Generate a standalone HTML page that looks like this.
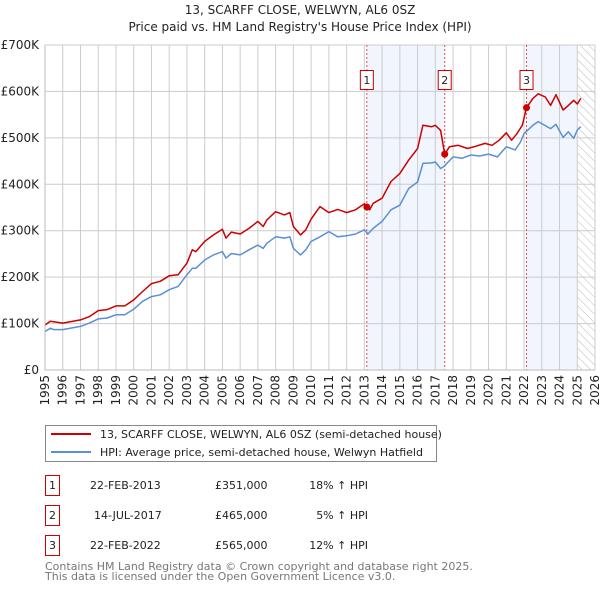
<!DOCTYPE html>
<html><head><meta charset="utf-8"><style>
body{margin:0;background:#fff;font-family:"DejaVu Sans","Liberation Sans",sans-serif;}
svg text{font-family:"DejaVu Sans","Liberation Sans",sans-serif;}
</style></head><body>
<svg id="chart" width="600" height="590" xmlns="http://www.w3.org/2000/svg">
<defs><pattern id="hatch" width="6" height="6" patternUnits="userSpaceOnUse" patternTransform="rotate(-45)"><line x1="0" y1="0" x2="0" y2="6" stroke="#bbb" stroke-width="1"/></pattern></defs>
<text x="300" y="14" text-anchor="middle" font-size="12" fill="#222">13, SCARFF CLOSE, WELWYN, AL6 0SZ</text>
<text x="300" y="31" text-anchor="middle" font-size="12" fill="#222">Price paid vs. HM Land Registry's House Price Index (HPI)</text>
<g id="plot"></g>
<g>
<rect x="45.5" y="425.5" width="391" height="36" fill="#fff" stroke="#888"/>
<line x1="51" y1="434" x2="91" y2="434" stroke="#cc0000" stroke-width="2"/>
<text x="100" y="438" font-size="11" fill="#222">13, SCARFF CLOSE, WELWYN, AL6 0SZ (semi-detached house)</text>
<line x1="51" y1="452" x2="91" y2="452" stroke="#5b8fd6" stroke-width="2"/>
<text x="100" y="456" font-size="11" fill="#222">HPI: Average price, semi-detached house, Welwyn Hatfield</text>
</g>
<g font-size="11" fill="#222">
<rect x="45.5" y="475.5" width="14" height="20" fill="#fff" stroke="#cc0000"/><text x="52.5" y="489" text-anchor="middle">1</text>
<text x="90" y="489">22-FEB-2013</text><text x="215" y="489">£351,000</text><text x="368" y="489" text-anchor="end">18% ↑ HPI</text>
<rect x="45.5" y="505.5" width="14" height="20" fill="#fff" stroke="#cc0000"/><text x="52.5" y="519" text-anchor="middle">2</text>
<text x="94" y="519">14-JUL-2017</text><text x="215" y="519">£465,000</text><text x="368" y="519" text-anchor="end">5% ↑ HPI</text>
<rect x="45.5" y="535.5" width="14" height="20" fill="#fff" stroke="#cc0000"/><text x="52.5" y="549" text-anchor="middle">3</text>
<text x="90" y="549">22-FEB-2022</text><text x="215" y="549">£565,000</text><text x="368" y="549" text-anchor="end">12% ↑ HPI</text>
</g>
<text x="45" y="570" font-size="11" fill="#777">Contains HM Land Registry data © Crown copyright and database right 2025.</text>
<text x="45" y="580" font-size="11" fill="#777">This data is licensed under the Open Government Licence v3.0.</text>
</svg>
<script>
const hpiYears=[1995,1995.3,1995.5,1996,1997,1997.5,1998,1998.5,1999,1999.5,2000,2000.5,2001,2001.5,2002,2002.5,2003,2003.3,2003.5,2004,2004.5,2005,2005.2,2005.5,2006,2006.5,2007,2007.3,2007.5,2008,2008.5,2008.8,2009,2009.4,2009.7,2010,2010.5,2011,2011.5,2012,2012.5,2013,2013.2,2013.5,2014,2014.5,2015,2015.5,2016,2016.3,2016.8,2017,2017.3,2017.5,2018,2018.5,2019,2019.5,2020,2020.5,2021,2021.5,2021.8,2022,2022.5,2022.8,2023.5,2023.8,2024.2,2024.5,2024.8,2025,2025.2];
const hpiValues=[83,90,87,87,94,101,110,112,119,119,131,148,158,162,173,180,205,219,219,237,248,255,241,251,248,259,269,262,273,287,284,287,262,248,259,277,287,298,287,289,293,302,293,305,320,345,355,391,405,445,446,448,434,439,459,456,463,461,465,459,481,474,491,509,527,535,520,529,501,513,499,517,524];
const priceYears=[1995,1995.3,1996,1997,1997.5,1998,1998.5,1999,1999.5,2000,2000.5,2001,2001.5,2002,2002.5,2003,2003.3,2003.5,2004,2004.5,2005,2005.2,2005.5,2006,2006.5,2007,2007.3,2007.5,2008,2008.5,2008.8,2009,2009.4,2009.7,2010,2010.5,2011,2011.5,2012,2012.5,2013,2013.14,2013.3,2013.5,2014,2014.5,2015,2015.5,2016,2016.3,2016.8,2017,2017.3,2017.53,2017.8,2018.3,2018.8,2019.3,2019.8,2020.2,2020.6,2021,2021.3,2021.6,2021.9,2022.14,2022.5,2022.8,2023.2,2023.5,2023.8,2024.2,2024.5,2024.8,2025,2025.2];
const priceValues=[97,105,101,108,115,128,130,138,138,151,169,186,191,203,205,230,259,255,277,291,303,284,297,293,305,320,309,323,341,334,339,309,291,302,325,352,339,346,339,345,358,351,345,359,370,406,423,452,477,527,524,527,516,465,481,484,477,482,488,484,495,511,495,509,527,565,585,595,588,570,593,560,570,581,573,585];
const saleLabels=["1","2","3"];
const saleYears=[2013.14,2017.53,2022.14];
const saleValues=[351,465,565];
const yTicks=[0,100,200,300,400,500,600,700];
const yTickLabels=["£0","£100K","£200K","£300K","£400K","£500K","£600K","£700K"];
const xTicks=[];for(let y=1995;y<=2026;y++)xTicks.push(y);

const X0=45,X1=595,Y0=370,Y1=45,YMIN=1995,YMAX=2026,VMAX=700;
const xs=y=>X0+(y-YMIN)/(YMAX-YMIN)*(X1-X0);
const ys=v=>Y0-v/VMAX*(Y0-Y1);
const NS="http://www.w3.org/2000/svg";
const plot=document.getElementById('plot');
function mk(tag,attrs,parent){const e=document.createElementNS(NS,tag);for(const k in attrs)e.setAttribute(k,attrs[k]);(parent||plot).appendChild(e);return e;}

// shaded regions
let r;
r=mk('rect',{x:xs(saleYears[0]),y:Y1,width:xs(saleYears[1])-xs(saleYears[0]),height:Y0-Y1,fill:'#eef3fc',opacity:0.8});


r=mk('rect',{x:xs(saleYears[2]),y:Y1,width:xs(2025)-xs(saleYears[2]),height:Y0-Y1,fill:'#eef3fc',opacity:0.8});


r=mk('rect',{x:xs(2025),y:Y1,width:xs(2026)-xs(2025),height:Y0-Y1,fill:'url(#hatch)'});



// grid
xTicks.forEach((t,i)=>{
 const l=mk('line',{x1:xs(t),x2:xs(t),y1:Y1,y2:Y0,stroke:'#ccc','stroke-width':1});
 
 
 const tx=mk('text',{x:0,y:0,'font-size':12,fill:'#222','text-anchor':'end',transform:`translate(${xs(t)+4},${Y0+5}) rotate(-90)`});
 tx.textContent=String(t);
 
 
});
yTicks.forEach((t,i)=>{
 const l=mk('line',{x1:X0,x2:X1,y1:ys(t),y2:ys(t),stroke:'#ccc','stroke-width':1});
 
 
 const tx=mk('text',{x:X0-6,y:ys(t)+4,'font-size':12,fill:'#222','text-anchor':'end'});
 tx.textContent=yTickLabels[i];
 
 
});

// sale dashed lines
saleYears.forEach((s,i)=>{
 const l=mk('line',{x1:xs(s),x2:xs(s),y1:Y1,y2:Y0,stroke:'#e05050','stroke-width':1,'stroke-dasharray':'2,2'});
 
 
});

function path(xa,va,color,name){
 const d=xa.map((x,i)=>(i?'L':'M')+xs(x).toFixed(1)+','+ys(va[i]).toFixed(1)).join('');
 const p=mk('path',{d:d,fill:'none',stroke:color,'stroke-width':1.5,'stroke-linejoin':'round'});
 
 
}
path(hpiYears,hpiValues,'#5b8fd6','hpi-line');
path(priceYears,priceValues,'#cc0000','price-line');

saleYears.forEach((s,i)=>{
 const c=mk('circle',{cx:xs(s),cy:ys(saleValues[i]),r:3.5,fill:'#cc0000'});
 
 
 const b=mk('rect',{x:xs(s)-6.5,y:70.5,width:13,height:19,fill:'#fff',stroke:'#cc0000'});
 
 
 const t=mk('text',{x:xs(s),y:84,'font-size':11,fill:'#222','text-anchor':'middle'});
 t.textContent=saleLabels[i];
 
 
});
const ax=mk('path',{d:`M${X0},${Y1}V${Y0}H${X1}`,fill:'none',stroke:'#bbb'});


</script>
</body></html>
